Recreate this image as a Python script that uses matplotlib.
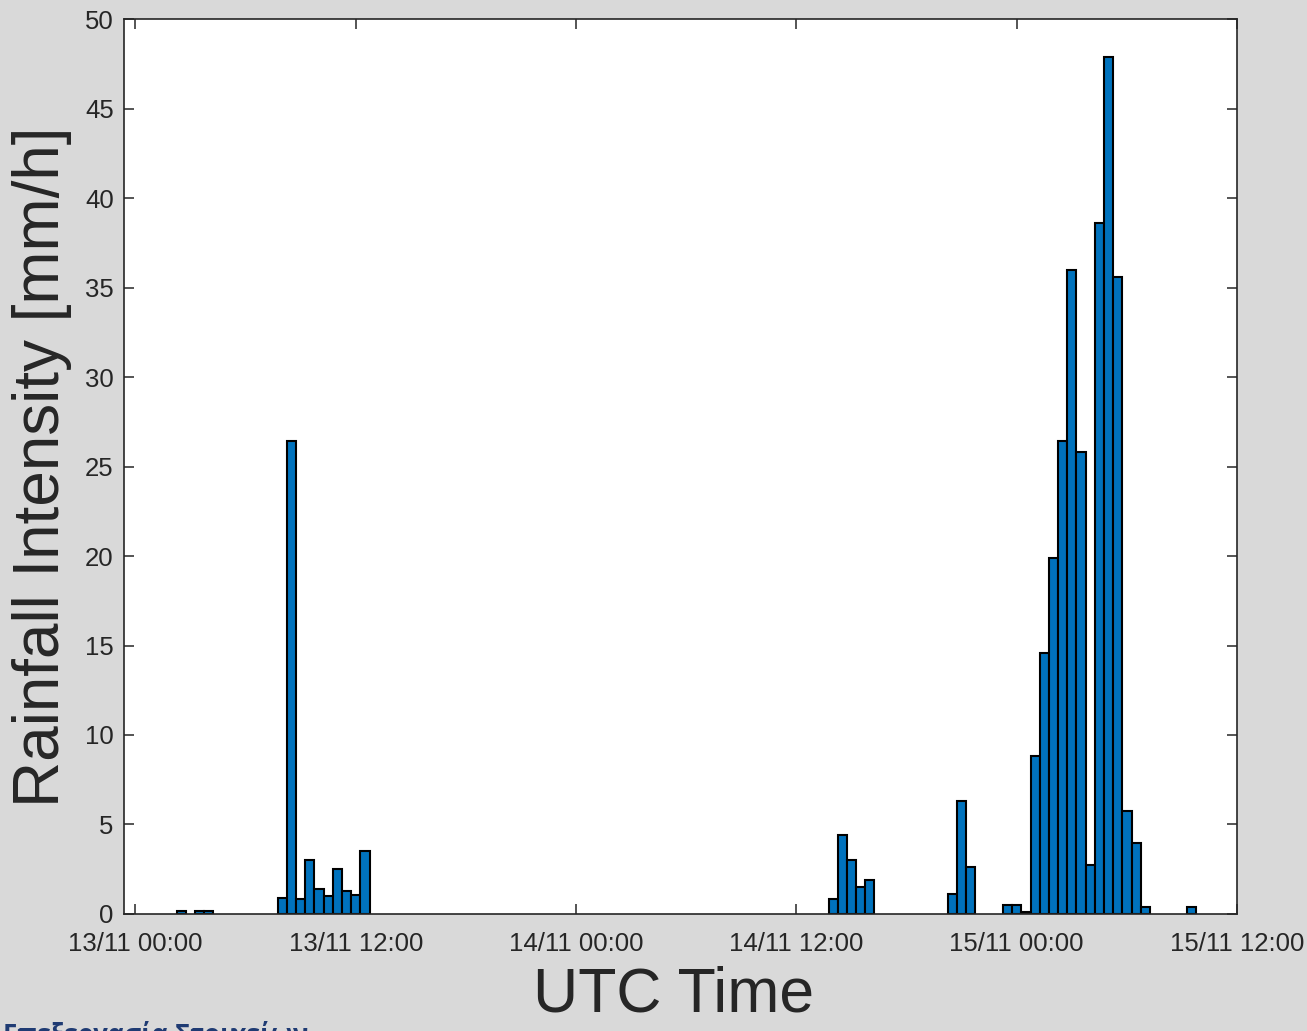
import matplotlib.pyplot as plt
import matplotlib.dates as mdates
import pandas as pd

# half-hourly rainfall intensity, bar centres (UTC)
times = [
    "2023-11-13 02:30", "2023-11-13 03:30", "2023-11-13 04:00",
    "2023-11-13 08:00", "2023-11-13 08:30", "2023-11-13 09:00",
    "2023-11-13 09:30", "2023-11-13 10:00", "2023-11-13 10:30",
    "2023-11-13 11:00", "2023-11-13 11:30", "2023-11-13 12:00",
    "2023-11-13 12:30",
    "2023-11-14 14:00", "2023-11-14 14:30", "2023-11-14 15:00",
    "2023-11-14 15:30", "2023-11-14 16:00",
    "2023-11-14 20:30", "2023-11-14 21:00", "2023-11-14 21:30",
    "2023-11-14 23:30", "2023-11-15 00:00", "2023-11-15 00:30",
    "2023-11-15 01:00", "2023-11-15 01:30", "2023-11-15 02:00",
    "2023-11-15 02:30", "2023-11-15 03:00", "2023-11-15 03:30",
    "2023-11-15 04:00", "2023-11-15 04:30", "2023-11-15 05:00",
    "2023-11-15 05:30", "2023-11-15 06:00", "2023-11-15 06:30",
    "2023-11-15 07:00", "2023-11-15 09:30",
]
intensity = [
    0.15, 0.15, 0.15,
    0.9, 26.4, 0.85,
    3.0, 1.4, 1.0,
    2.5, 1.3, 1.05,
    3.5,
    0.85, 4.4, 3.0,
    1.5, 1.9,
    1.1, 6.3, 2.6,
    0.5, 0.5, 0.1,
    8.8, 14.6, 19.9,
    26.4, 36.0, 25.8,
    2.75, 38.6, 47.9,
    35.6, 5.75, 3.95,
    0.4, 0.4,
]
x_start = "2023-11-12 23:21"
x_end = "2023-11-15 12:00"
tick_times = ["2023-11-13 00:00", "2023-11-13 12:00", "2023-11-14 00:00",
              "2023-11-14 12:00", "2023-11-15 00:00", "2023-11-15 12:00"]
y_ticks = [0, 5, 10, 15, 20, 25, 30, 35, 40, 45, 50]

plt.rcParams['font.family'] = ['Liberation Sans', 'DejaVu Sans']
grey = '#d9d9d9'
dark = '#262626'

t = pd.to_datetime(times)
fig = plt.figure(figsize=(13.07, 10.31), dpi=100, facecolor=grey)
ax = fig.add_axes([0.0945, 0.1135, 0.852, 0.868])
ax.bar(t, intensity, width=1 / 48, color='#0072BD', edgecolor='black',
       linewidth=1.5, align='center', zorder=2)

ax.set_xlim(pd.Timestamp(x_start), pd.Timestamp(x_end))
ax.set_ylim(0, 50)
ax.set_xticks(pd.to_datetime(tick_times))
ax.xaxis.set_major_formatter(mdates.DateFormatter('%d/%m %H:%M'))
ax.set_yticks(y_ticks)

ax.tick_params(direction='in', length=7, width=1.1, colors=dark,
               labelsize=18.5, top=True, right=True)
ax.tick_params(axis='x', pad=13)
ax.tick_params(axis='y', pad=7)
for sp in ax.spines.values():
    sp.set_color(dark)
    sp.set_linewidth(1.2)

ax.set_xlabel('UTC Time', fontsize=45, color=dark, va='center')
ax.xaxis.set_label_coords(0.494, -0.0905)
ax.set_ylabel('Rainfall Intensity [mm/h]', fontsize=46, color=dark,
              va='center')
ax.yaxis.set_label_coords(-0.073, 0.5)

# caption partly cut by the bottom edge, as in the source image
fig.text(0.002, 1 - 1021 / 1031, 'Επεξεργασία Στοιχείων', fontsize=18.5,
         color='#1f3b73', fontweight='bold', va='top', ha='left',
         family=['Open Sans', 'DejaVu Sans'])

fig.savefig('out.png', dpi=100, facecolor=grey)
